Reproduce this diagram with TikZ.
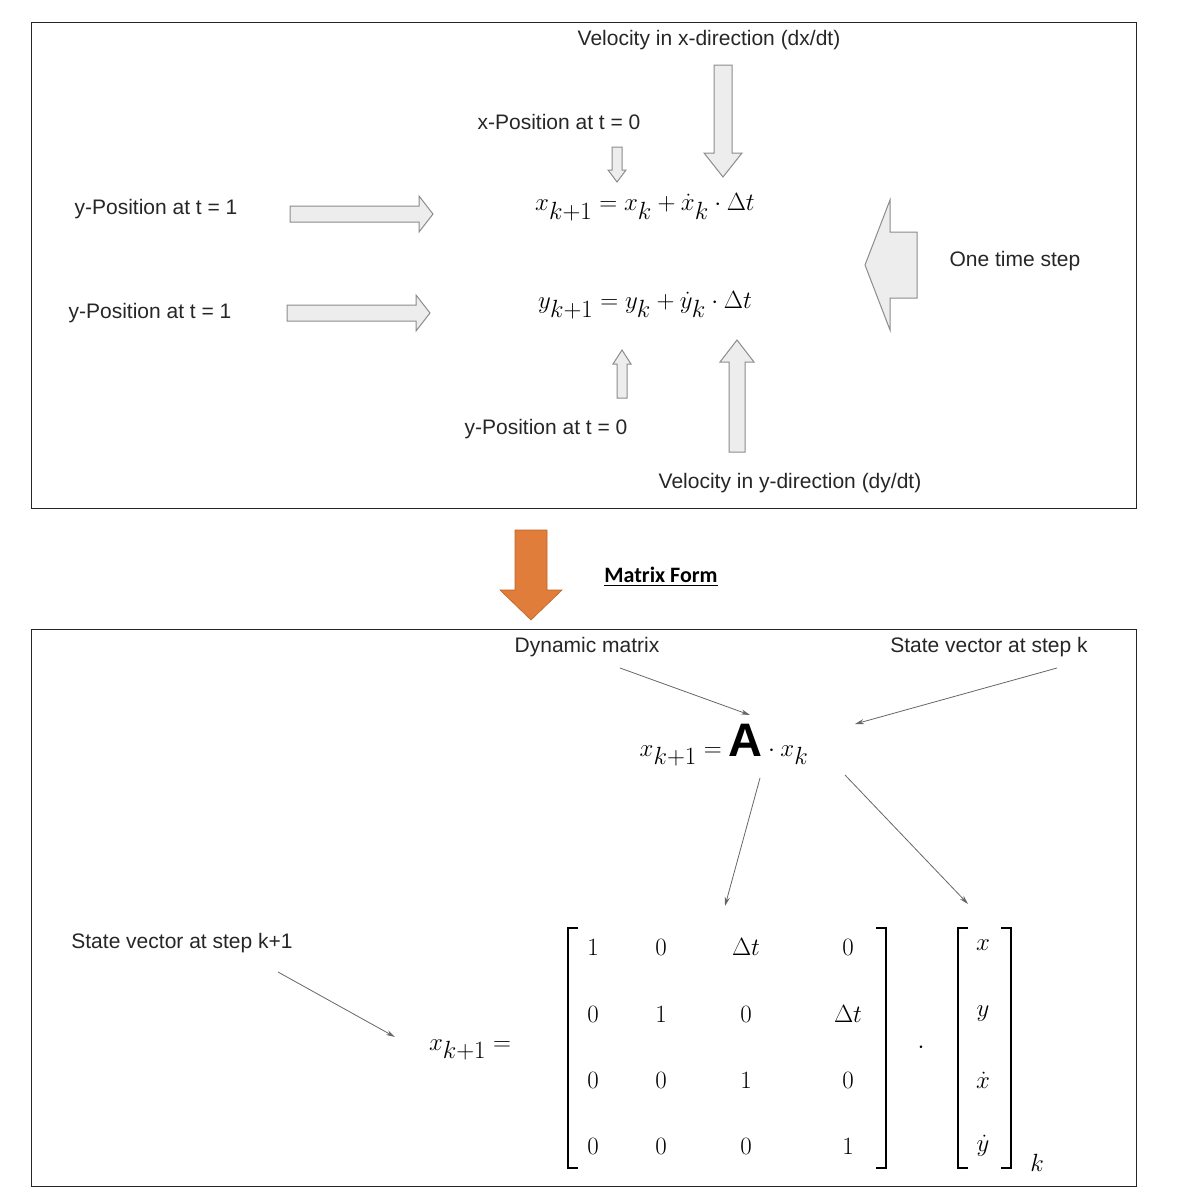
\documentclass[tikz,border=0pt]{standalone}
\usepackage{fontspec}
\setmainfont{Liberation Sans}
\newfontfamily\calib{Carlito}
\usepackage{amsmath}
\usetikzlibrary{arrows.meta}
\begin{document}
\begin{tikzpicture}[x=1pt,y=-1pt,
  lbl/.style={font=\fontsize{21}{24}\selectfont, text=black!85, inner sep=0pt},
  eq/.style={font=\fontsize{47}{56}\selectfont, inner sep=0pt},
  ent/.style={font=\fontsize{52}{60}\selectfont, inner sep=0pt},
  blk/.style={draw=black!45, fill=black!7, line width=1pt},
  thin/.style={draw=black!60, line width=0.8pt, -{Stealth[length=9pt,width=5pt]}},
  box/.style={draw=black!85, line width=1pt}]
\useasboundingbox (0,0) rectangle (1200,1194);
\newcommand\harrow[6]{\draw[blk] (#1,#3-#4) -- (#2-#6,#3-#4) -- (#2-#6,#3-#5) -- (#2,#3) -- (#2-#6,#3+#5) -- (#2-#6,#3+#4) -- (#1,#3+#4) -- cycle;}
\newcommand\varrow[6]{\draw[blk] (#1-#4,#2) -- (#1-#4,#3-#6) -- (#1-#5,#3-#6) -- (#1,#3) -- (#1+#5,#3-#6) -- (#1+#4,#3-#6) -- (#1+#4,#2) -- cycle;}
% boxes
\draw[box] (31,22) rectangle (1136,508);
\draw[box] (31,629) rectangle (1136,1186);
% top labels
\node[lbl] (vx) at (709,40) {Velocity in x-direction (dx/dt)};
\node[lbl] (x0) at (559,122) {x-Position at t = 0};
\node[lbl] (y1a) at (156,209) {y-Position at t = 1};
\node[lbl] (y1b) at (150,313) {y-Position at t = 1};
\node[lbl] (ots) at (1015,261) {One time step};
\node[lbl] (y0) at (546,429) {y-Position at t = 0};
\node[lbl] (vy) at (790,483) {Velocity in y-direction (dy/dt)};
% equations
\node[eq] (e1) at (645,207) {$x_{k+1} = x_k + \dot{x}_k \cdot \Delta t$};
\node[eq] (e2) at (645,305) {$y_{k+1} = y_k + \dot{y}_k \cdot \Delta t$};
% block arrows
\harrow{290}{433}{214}{8}{18}{14}
\harrow{287}{430}{313}{8}{18}{14}
\varrow{617}{147}{182}{5}{9}{12}
\varrow{723}{65}{177}{9}{19}{24}
\varrow{622}{398}{350}{5}{9}{-14}
\varrow{737}{452}{340}{8}{17}{-22}
\harrow{917}{865}{265}{33}{65}{-25}
% orange arrow
\draw[fill={rgb,255:red,224;green,125;blue,58}, draw={rgb,255:red,190;green,100;blue,40}, line width=0.6pt]
  (515,530) -- (547,530) -- (547,590) -- (562,590) -- (531,620) -- (500,590) -- (515,590) -- cycle;
\node[inner sep=0pt, font=\calib\bfseries\fontsize{22}{26}\selectfont] (mf) at (661,577) {\underline{Matrix Form}};
% bottom part
\node[lbl] (dm) at (587,647) {Dynamic matrix};
\node[lbl] (svk) at (989,647) {State vector at step k};
\node[lbl] (svk1) at (182,943) {State vector at step k+1};
\node[eq] (e3) at (724,745) {$x_{k+1} = \mathbf{A} \cdot x_k$};
\coordinate (a1) at (620,668); \coordinate (a1e) at (750,715);
\coordinate (a2) at (1057,668); \coordinate (a2e) at (855,724);
\coordinate (a3) at (760,778); \coordinate (a3e) at (725,906);
\coordinate (a4) at (845,775); \coordinate (a4e) at (968,904);
\coordinate (a5) at (278,972); \coordinate (a5e) at (395,1037);
\draw[thin] (a1) -- (a1e);
\draw[thin] (a2) -- (a2e);
\draw[thin] (a3) -- (a3e);
\draw[thin] (a4) -- (a4e);
\draw[thin] (a5) -- (a5e);
\node[eq] (lhs) at (470,1050) {$x_{k+1} =$};
% matrix entries
\foreach \r/\yy in {1/947,2/1014,3/1080,4/1146}{
  \foreach \c/\xx in {1/593,2/661,3/746,4/848}{
    \coordinate (p\r\c) at (\xx,\yy);
  }
}
\node[ent] (m11) at (p11) {$1$}; \node[ent] (m12) at (p12) {$0$}; \node[ent] (m13) at (p13) {$\Delta t$}; \node[ent] (m14) at (p14) {$0$};
\node[ent] (m21) at (p21) {$0$}; \node[ent] (m22) at (p22) {$1$}; \node[ent] (m23) at (p23) {$0$}; \node[ent] (m24) at (p24) {$\Delta t$};
\node[ent] (m31) at (p31) {$0$}; \node[ent] (m32) at (p32) {$0$}; \node[ent] (m33) at (p33) {$1$}; \node[ent] (m34) at (p34) {$0$};
\node[ent] (m41) at (p41) {$0$}; \node[ent] (m42) at (p42) {$0$}; \node[ent] (m43) at (p43) {$0$}; \node[ent] (m44) at (p44) {$1$};
\draw[line width=2.4pt] (578,928) -- (568,928) -- (568,1168) -- (578,1168);
\draw[line width=2.4pt] (876,928) -- (886,928) -- (886,1168) -- (876,1168);
\node[ent] (dot) at (921,1048) {$\cdot$};
\draw[line width=2.4pt] (968,928) -- (958,928) -- (958,1168) -- (968,1168);
\draw[line width=2.4pt] (1001,928) -- (1011,928) -- (1011,1168) -- (1001,1168);
\node[ent] (v1) at (983,945) {$x$};
\node[ent] (v2) at (983,1014) {$y$};
\node[ent] (v3) at (983,1080) {$\dot{x}$};
\node[ent] (v4) at (983,1146) {$\dot{y}$};
\node[ent, font=\fontsize{36}{40}\selectfont] (sk) at (1037,1163) {$k$};
\end{tikzpicture}
\end{document}
